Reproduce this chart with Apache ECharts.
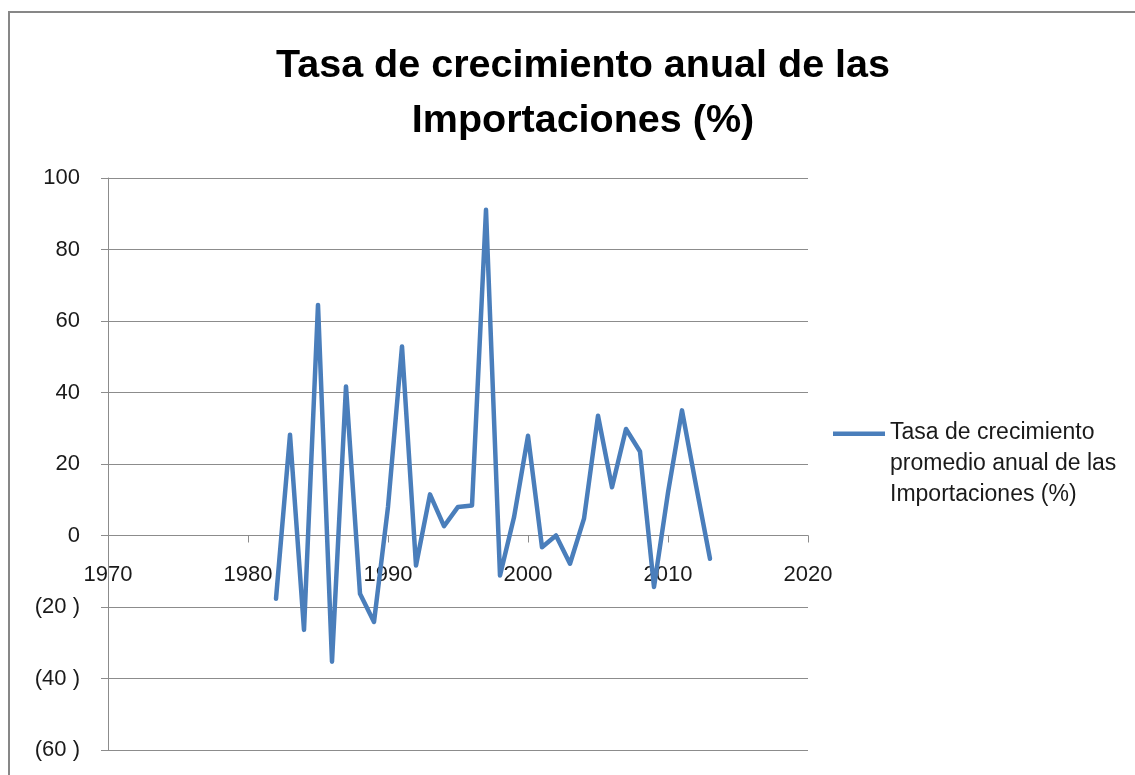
<!DOCTYPE html>
<html>
<head>
<meta charset="utf-8">
<script src="https://cdn.jsdelivr.net/npm/echarts@6/dist/echarts.min.js"></script>
<style>
html,body{margin:0;padding:0;background:#fff;overflow:hidden;}
#frame{position:absolute;left:8px;top:11px;width:1200px;height:900px;border:2px solid #878787;box-sizing:border-box;}
#chart{position:absolute;left:0;top:0;width:1135px;height:775px;}
</style>
</head>
<body>
<div id="frame"></div>
<div id="chart"></div>
<script>
const titleText = 'Tasa de crecimiento anual de las\nImportaciones (%)';
const seriesName = 'Tasa de crecimiento\npromedio anual de las\nImportaciones (%)';
const years = [1982,1983,1984,1985,1986,1987,1988,1989,1990,1991,1992,1993,1994,1995,1996,1997,1998,1999,2000,2001,2002,2003,2004,2005,2006,2007,2008,2009,2010,2011,2012,2013];
const values = [-17.7,28.2,-26.4,64.5,-35.3,41.7,-16.3,-24.2,8.0,52.9,-8.4,11.5,2.6,8.0,8.4,91.1,-11.2,5.1,27.9,-3.3,0.0,-7.9,4.7,33.5,13.5,29.8,23.5,-14.4,12.0,35.0,14.0,-6.5];
const xTicks = [1970,1980,1990,2000,2010,2020];
const yTicks = [-60,-40,-20,0,20,40,60,80,100];

const chart = echarts.init(document.getElementById('chart'), null, {renderer:'canvas'});
const lineColor = '#4a7ebb';
const gridColor = '#8c8c8c';
const textColor = '#1a1a1a';
const baseFont = '"Liberation Sans", Arial, sans-serif';

chart.setOption({
  animation: false,
  backgroundColor: 'transparent',
  title: {
    text: titleText,
    left: 578,
    textAlign: 'center',
    top: 34,
    textStyle: {
      fontFamily: baseFont,
      fontWeight: 'bold',
      fontSize: 39.5,
      lineHeight: 55,
      color: '#000'
    }
  },
  legend: {
    left: 833,
    top: 417,
    padding: 0,
    orient: 'vertical',
    itemWidth: 52,
    itemHeight: 64,
    itemGap: 5,
    icon: 'path://M0,0H52V4.5H0Z M0,64H0.1V63.9H0Z',
    textStyle: {
      fontFamily: baseFont,
      fontSize: 23,
      lineHeight: 31,
      color: textColor,
      padding: [0,0,0,0]
    },
    data: [seriesName]
  },
  grid: {
    left: 108,
    right: 327,
    top: 178,
    bottom: 25,
    containLabel: false,
    outerBoundsMode: 'none'
  },
  xAxis: {
    type: 'value',
    min: xTicks[0],
    max: xTicks[xTicks.length-1],
    interval: 10,
    axisLine: { show: true, onZero: true, lineStyle: { color: gridColor, width: 1 } },
    axisTick: { show: true, length: 7, lineStyle: { color: gridColor } },
    splitLine: { show: false },
    axisLabel: {
      margin: -186,
      fontFamily: baseFont,
      fontSize: 22,
      color: textColor,
      formatter: v => String(v)
    }
  },
  yAxis: {
    type: 'value',
    min: yTicks[0],
    max: yTicks[yTicks.length-1],
    interval: 20,
    axisLine: { show: true, lineStyle: { color: gridColor, width: 1 } },
    axisTick: { show: true, length: 7, lineStyle: { color: gridColor } },
    splitLine: { show: true, lineStyle: { color: gridColor, width: 1 } },
    axisLabel: {
      margin: 28,
      fontFamily: baseFont,
      fontSize: 22,
      color: textColor,
      formatter: v => v < 0 ? '(' + Math.abs(v) + ' )' : String(v)
    }
  },
  series: [{
    name: seriesName,
    type: 'line',
    data: years.map((y, i) => [y, values[i]]),
    showSymbol: false,
    symbol: 'none',
    itemStyle: { color: lineColor },
    lineStyle: { color: lineColor, width: 4.5, join: 'round', cap: 'round' }
  }]
});
</script>
</body>
</html>
